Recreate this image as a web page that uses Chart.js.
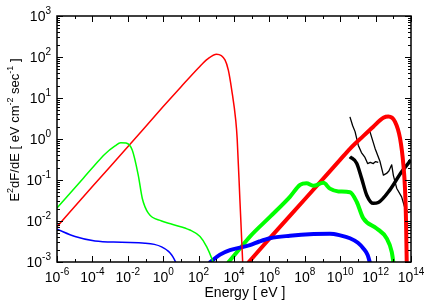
<!DOCTYPE html>
<html><head><meta charset="utf-8">
<script src="https://cdn.jsdelivr.net/npm/chart.js@4/dist/chart.umd.min.js"></script>
<style>html,body{margin:0;padding:0;background:#fff;}canvas{display:block;}</style>
</head><body>
<canvas id="c" width="436" height="305"></canvas>
<script>
// Axis ticks (exponents of 10) and titles
const xTickExponents = [-6,-4,-2,0,2,4,6,8,10,12,14];
const yTickExponents = [-3,-2,-1,0,1,2,3];
const xTitle = 'Energy [ eV ]';
const yTitleParts = [['E',0],['2',1],['dF/dE [ eV cm',0],['-2',1],[' sec',0],['-1',1],[' ]',0]];

// Series values, read as log10(Energy [eV]) and log10(E^2 dF/dE)
const blueThinLogE  = [-6, -4.98, -3.85, -2.35, -1.03, -0.5, -0.09, 0.3, 0.48, 0.62, 0.75];
const blueThinLogF  = [-2.2, -2.38, -2.49, -2.52, -2.54, -2.57, -2.63, -2.74, -2.83, -2.93, -3.05];

const greenThinLogE = [-6, -4.5, -3.85, -3.3, -2.72, -2.4, -2.1, -1.75, -1.41, -1.18, -0.84, -0.09, 0.5, 1.51, 2.08, 2.46, 2.74, 2.85];
const greenThinLogF = [-1.68, -0.95, -0.63, -0.37, -0.17, -0.09, -0.1, -0.27, -0.88, -1.45, -1.81, -2.0, -2.08, -2.22, -2.38, -2.63, -2.91, -3.05];

const redThinLogE   = [-6, -4, -2, 0, 1, 2, 2.5, 3.02, 3.49, 3.68, 3.87, 4.1, 4.18, 4.33, 4.49, 4.52];
const redThinLogF   = [-2.14, -1.16, -0.19, 0.79, 1.27, 1.74, 1.95, 2.07, 1.93, 1.68, 1.2, 0.45, 0.0, -1.45, -3.0, -3.3];

const blueThickLogE = [2.6, 3.21, 3.77, 4.53, 4.9, 5.43, 6.03, 7.16, 8.5, 9.42, 10.0, 10.55, 11.0, 11.31, 11.55, 11.7];
const blueThickLogF = [-3.02, -2.82, -2.71, -2.63, -2.59, -2.5, -2.42, -2.36, -2.32, -2.31, -2.35, -2.42, -2.53, -2.67, -2.83, -3.05];

const greenThickLogE = [3.66, 4.3, 4.9, 6.03, 7.16, 7.73, 8.1, 8.48, 9.05, 9.42, 9.9, 10.55, 10.93, 11.3, 12.06, 12.62, 12.91, 13.02];
const greenThickLogF = [-3.02, -2.69, -2.38, -1.9, -1.41, -1.12, -1.08, -1.14, -1.07, -1.21, -1.28, -1.3, -1.53, -1.93, -2.18, -2.42, -2.75, -3.05];

const redThickLogE  = [4.8, 6, 8, 9.99, 10.55, 11.3, 11.87, 12.44, 12.72, 13.1, 13.38, 13.57, 13.66, 13.72, 13.76];
const redThickLogF  = [-3.02, -2.43, -1.47, -0.51, -0.24, 0.07, 0.3, 0.52, 0.55, 0.42, 0.02, -0.63, -1.2, -2.0, -3.05];

const blackThickLogE = [10.55, 10.93, 11.21, 11.5, 11.87, 12.15, 12.81, 13.47, 14.0];
const blackThickLogF = [-0.43, -0.59, -0.96, -1.37, -1.57, -1.55, -1.24, -0.8, -0.51];

const blackThinALogE = [10.55, 10.7, 10.84, 11.02, 11.2, 11.4, 11.55, 11.7, 11.87, 12.0, 12.15];
const blackThinALogF = [0.54, 0.33, 0.18, -0.15, -0.33, -0.45, -0.6, -0.57, -0.6, -0.55, -0.57];

const blackThinBLogE = [11.68, 11.97, 12.25, 12.44, 12.62, 12.75, 12.91, 13.0, 13.19, 13.47, 13.66, 13.85, 14.0];
const blackThinBLogF = [0.18, -0.23, -0.55, -0.88, -0.84, -0.78, -0.63, -0.88, -1.2, -1.41, -1.69, -1.79, -1.77];

function pts(le, lf) { return le.map((e, i) => ({ x: Math.pow(10, e), y: Math.pow(10, lf[i]) })); }
function ds(le, lf, color, width, smooth) {
  return { data: pts(le, lf), borderColor: color, borderWidth: width, pointRadius: 0,
    fill: false, cubicInterpolationMode: smooth ? 'monotone' : 'default', tension: 0, clip: 0,
    borderJoinStyle: 'round', borderCapStyle: 'butt' };
}

const FONT = '"Liberation Sans", Arial, Helvetica, sans-serif';
const TICK_SIZE = 14, SUP_SIZE = 10, RAISE = 7;

function powWidth(ctx, exp) {
  ctx.font = TICK_SIZE + 'px ' + FONT; const w1 = ctx.measureText('10').width;
  ctx.font = SUP_SIZE + 'px ' + FONT; const w2 = ctx.measureText(String(exp)).width;
  return w1 + w2;
}
function drawPow(ctx, exp, xLeft, baseY) {
  ctx.textAlign = 'left'; ctx.textBaseline = 'alphabetic';
  ctx.font = TICK_SIZE + 'px ' + FONT; ctx.fillText('10', xLeft, baseY);
  const w1 = ctx.measureText('10').width;
  ctx.font = SUP_SIZE + 'px ' + FONT; ctx.fillText(String(exp), xLeft + w1, baseY - RAISE);
}

const framePlugin = {
  id: 'frame',
  afterDatasetsDraw(chart) {
    const { ctx, chartArea: a } = chart;
    const xs = chart.scales.x, ys = chart.scales.y;
    ctx.save();
    ctx.fillStyle = '#000'; ctx.strokeStyle = '#000'; ctx.lineWidth = 1;
    ctx.beginPath();
    const xMin = Math.round(Math.log10(xs.min)), xMax = Math.round(Math.log10(xs.max));
    for (let e = xMin; e <= xMax; e++) {
      const px = Math.round(xs.getPixelForValue(Math.pow(10, e))) + 0.5;
      const len = (xTickExponents.includes(e)) ? 6 : 3;
      ctx.moveTo(px, a.bottom); ctx.lineTo(px, a.bottom - len);
      ctx.moveTo(px, a.top); ctx.lineTo(px, a.top + len);
    }
    const yMin = Math.round(Math.log10(ys.min)), yMax = Math.round(Math.log10(ys.max));
    for (let e = yMin; e <= yMax; e++) {
      for (let m = 1; m <= 9; m++) {
        if (e === yMax && m > 1) break;
        const py = Math.round(ys.getPixelForValue(m * Math.pow(10, e))) + 0.5;
        const len = m === 1 ? 6 : 3;
        ctx.moveTo(a.left, py); ctx.lineTo(a.left + len, py);
        ctx.moveTo(a.right, py); ctx.lineTo(a.right - len, py);
      }
    }
    ctx.stroke();
    ctx.lineWidth = 1.5;
    ctx.strokeRect(a.left, a.top, a.right - a.left, a.bottom - a.top);

    xTickExponents.forEach(e => {
      const px = xs.getPixelForValue(Math.pow(10, e));
      drawPow(ctx, e, px - powWidth(ctx, e) / 2, a.bottom + 20);
    });
    yTickExponents.forEach(e => {
      const py = ys.getPixelForValue(Math.pow(10, e));
      drawPow(ctx, e, a.left - 6 - powWidth(ctx, e), py + 5);
    });
    ctx.font = '14px ' + FONT; ctx.textAlign = 'center'; ctx.textBaseline = 'alphabetic';
    ctx.fillText(xTitle, 245, 297);
    ctx.save();
    ctx.translate(19, 130); ctx.rotate(-Math.PI / 2);
    let total = 0;
    yTitleParts.forEach(([t, sup]) => { ctx.font = (sup ? 9 : 13) + 'px ' + FONT; total += ctx.measureText(t).width; });
    let cx = -total / 2;
    ctx.textAlign = 'left';
    yTitleParts.forEach(([t, sup]) => {
      ctx.font = (sup ? 9 : 13) + 'px ' + FONT;
      ctx.fillText(t, cx, sup ? -6.5 : 0);
      cx += ctx.measureText(t).width;
    });
    ctx.restore();
    ctx.restore();
  }
};

new Chart(document.getElementById('c'), {
  type: 'line',
  data: { datasets: [
    ds(blueThinLogE, blueThinLogF, '#0000ff', 1.5, true),
    ds(greenThinLogE, greenThinLogF, '#00ff00', 1.5, true),
    ds(redThinLogE, redThinLogF, '#ff0000', 1.5, true),
    ds(blueThickLogE, blueThickLogF, '#0000ff', 4, true),
    ds(greenThickLogE, greenThickLogF, '#00ff00', 4, true),
    ds(redThickLogE, redThickLogF, '#ff0000', 4, true),
    ds(blackThickLogE, blackThickLogF, '#000000', 3.5, true),
    ds(blackThinALogE, blackThinALogF, '#000000', 1.3, false),
    ds(blackThinBLogE, blackThinBLogF, '#000000', 1.3, false)
  ] },
  options: {
    responsive: false, animation: false, events: [],
    layout: { padding: { left: 57, right: 25, top: 16, bottom: 43 } },
    plugins: { legend: { display: false }, tooltip: { enabled: false }, title: { display: false } },
    scales: {
      x: { type: 'logarithmic', min: 1e-6, max: 1e14, ticks: { display: false }, grid: { display: false }, border: { display: false },
           afterFit: s => { s.height = 0; } },
      y: { type: 'logarithmic', min: 1e-3, max: 1e3, ticks: { display: false }, grid: { display: false }, border: { display: false },
           afterFit: s => { s.width = 0; } }
    }
  },
  plugins: [framePlugin]
});
</script>
</body></html>
